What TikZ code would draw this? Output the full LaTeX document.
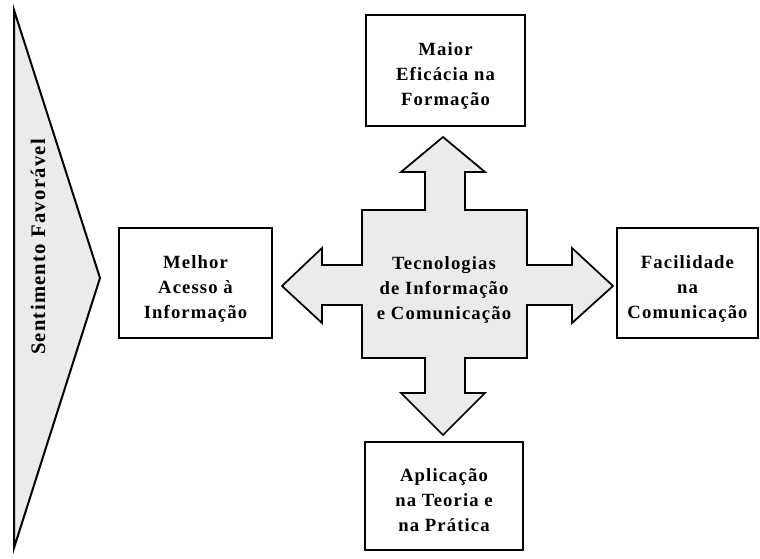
\documentclass[tikz,border=0pt]{standalone}
\usepackage{fontspec}
\newfontfamily\lblfont[LetterSpace=6]{Liberation Serif}
\definecolor{shade}{HTML}{EBEBEB}
\begin{document}
\begin{tikzpicture}[x=0.75pt,y=-0.75pt,
  txt/.style={font=\lblfont\bfseries\fontsize{14}{18.8}\selectfont,align=center},
  outbox/.style={draw=black,line width=2.2pt,fill=white,inner sep=0pt}]
\useasboundingbox (0,0) rectangle (760,558);
% left chevron
\draw[line width=1.5pt,fill=shade,line join=miter] (14,10) -- (100,278) -- (14,548) -- cycle;
\node[txt,font=\lblfont\bfseries\fontsize{15.5}{18}\selectfont,rotate=90] (sent) at (38,247) {Sentimento Favorável};
% cross
\draw[line width=1.3pt,fill=shade,line join=miter]
 (443,137) -- (485,172) -- (465,172) -- (465,210) -- (527,210) -- (527,265) -- (572,265) -- (572,248)
 -- (613,286) -- (572,323) -- (572,305) -- (527,305) -- (527,358) -- (465,358) -- (465,393) -- (485,393)
 -- (443,435) -- (401,393) -- (425,393) -- (425,358) -- (362,358) -- (362,305) -- (322,305) -- (322,323)
 -- (282,286) -- (322,248) -- (322,265) -- (362,265) -- (362,210) -- (425,210) -- (425,172) -- (401,172) -- cycle;
\node[txt] (tic) at (444,290) {Tecnologias\\de Informação\\e Comunicação};
% boxes
\draw[outbox] (366,15) rectangle (525,126);
\node[txt] (top) at (445.5,76) {Maior\\Eficácia na\\Formação};
\draw[outbox] (119,228) rectangle (272,338);
\node[txt] (left) at (195.5,289) {Melhor\\Acesso à\\Informação};
\draw[outbox] (617,228) rectangle (758,338);
\node[txt] (right) at (687.5,289) {Facilidade\\na\\Comunicação};
\draw[outbox] (365,442) rectangle (523,550);
\node[txt] (bot) at (444,500) {Aplicação\\na Teoria e\\na Prática};
\end{tikzpicture}
\end{document}
